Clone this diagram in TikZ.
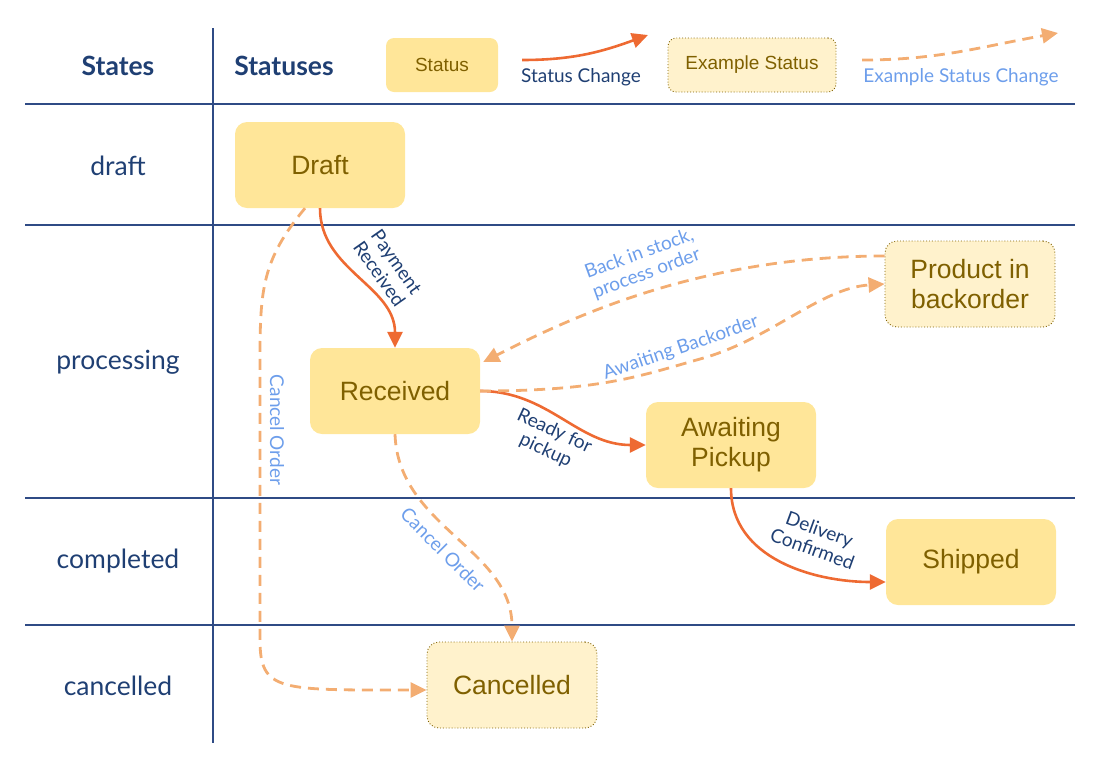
\documentclass[tikz,border=0pt]{standalone}
\usepackage{fontspec}
\setmainfont{Lato}
\newfontfamily\boxfont{Liberation Sans}
\usetikzlibrary{arrows.meta}
\definecolor{statfill}{HTML}{FFE699}
\definecolor{exfill}{HTML}{FFF2CC}
\definecolor{stattext}{HTML}{7F6000}
\definecolor{exdot}{HTML}{7F6000}
\definecolor{chg}{HTML}{EE6A32}
\definecolor{exchg}{HTML}{F3AD72}
\definecolor{navy}{HTML}{1F3F73}
\definecolor{sky}{HTML}{6D9EEB}
\definecolor{rule}{HTML}{2F4B85}
\tikzstyle{status} = [rectangle, rounded corners=12pt, fill=statfill, text=stattext, minimum width=170pt, minimum height=86pt, align=center, font=\boxfont\fontsize{26.5}{30}\selectfont]
\tikzstyle{exstatus} = [status, fill=exfill, draw=exdot, line width=0.9pt, dash pattern=on 0.9pt off 2pt]
\tikzstyle{line} = [draw, chg, line width=2.6pt, -{Triangle[length=16pt,width=15pt]}]
\tikzstyle{exline} = [line, exchg, line width=2.8pt, dash pattern=on 11pt off 7pt]
\tikzstyle{state} = [text=navy, font=\fontsize{26.5}{30}\selectfont]
\tikzstyle{change} = [text=navy, align=center, font=\fontsize{19}{21}\selectfont]
\tikzstyle{exchange} = [change, text=sky]
\tikzstyle{grid} = [draw, rule, line width=1.3pt]
\begin{document}
\begin{tikzpicture}[x=1pt, y=1pt]
  \useasboundingbox (0,0) rectangle (1105,-769);
  % table lines
  \path [grid] (213,-28) -- (213,-743);
  \path [grid] (25,-104) -- (1075,-104);
  \path [grid] (25,-225) -- (1075,-225);
  \path [grid] (25,-498) -- (1075,-498);
  \path [grid] (25,-625) -- (1075,-625);
  % header and legend
  \node [state, font=\bfseries\fontsize{26.5}{30}\selectfont] (hstate) at (118,-66) {States};
  \node [state, font=\bfseries\fontsize{26.5}{30}\selectfont] (hstatus) at (284,-66) {Statuses};
  \node [status, minimum width=112pt, minimum height=54pt, rounded corners=8pt, font=\boxfont\fontsize{19}{22}\selectfont] (lstat) at (442,-65) {Status};
  \node [exstatus, minimum width=168pt, minimum height=54pt, rounded corners=8pt, font=\boxfont\fontsize{19}{22}\selectfont] (lexstat) at (752,-65) {Example Status};
  \coordinate (lchga) at (522,-60);
  \coordinate (lchgb) at (648,-35);
  \coordinate (lexa) at (862,-60);
  \coordinate (lexb) at (1058,-33);
  \path [line] (lchga) to[out=0,in=200] (lchgb);
  \path [exline] (lexa) to[out=0,in=190] (lexb);
  \node [change] (lchg) at (581,-77) {Status Change};
  \node [exchange] (lex) at (961,-77) {Example Status Change};
  % states
  \node [state] (sdraft) at (118,-166) {draft};
  \node [state] (sproc) at (118,-362) {processing};
  \node [state] (scomp) at (118,-561) {completed};
  \node [state] (scanc) at (118,-686) {cancelled};
  % statuses
  \node [status] (draft) at (320,-165) {Draft};
  \node [status] (recv) at (395,-391) {Received};
  \node [status] (await) at (731,-445) {Awaiting\\Pickup};
  \node [exstatus] (backord) at (970,-284) {Product in\\backorder};
  \node [status] (ship) at (971,-562) {Shipped};
  \node [exstatus] (cancel) at (512,-685) {Cancelled};
  % changes
  \path [line] (draft.south) to[out=-90,in=90] (recv.north);
  \path [line] (recv.east) to[out=0,in=180] (await.west);
  \path [line] (await.south) to[out=-90,in=180] ([yshift=-20pt]ship.west);
  \path [exline] ([xshift=-15pt]draft.south) .. controls (262,-260) and (260,-290) .. (260,-360) -- (260,-640) .. controls (260,-692) and (280,-690) .. ([yshift=-5pt]cancel.west);
  \path [exline] (recv.south) to[out=-88,in=90] (cancel.north);
  \path [exline] (recv.east) .. controls (600,-391) and (640,-376) .. (700,-359) .. controls (770,-340) and (820,-288) .. (backord.west);
  \path [exline] ([yshift=28pt]backord.west) .. controls (700,-256) and (570,-318) .. ([shift={(3pt,29pt)}]recv.east);
  \node [change, rotate=-55] (lpay) at (388,-268) {Payment\\Received};
  \node [change, rotate=-25] (lready) at (550,-441) {Ready for\\pickup};
  \node [change, rotate=-20] (ldeliv) at (816,-539) {Delivery\\Confirmed};
  \node [exchange, rotate=-90] (lcanc1) at (277,-430) {Cancel Order};
  \node [exchange, rotate=-45] (lcanc2) at (443,-550) {Cancel Order};
  \node [exchange, rotate=19] (lawait) at (681,-348) {Awaiting Backorder};
  \node [exchange, rotate=20] (lback) at (643,-264) {Back in stock,\\process order};
\end{tikzpicture}
\end{document}
